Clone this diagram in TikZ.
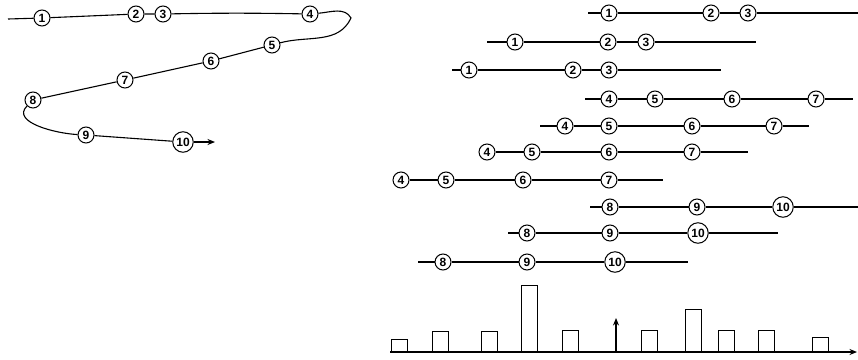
\documentclass[tikz,border=0pt]{standalone}
\usepackage{fontspec}
\setmainfont{Liberation Sans}
\usetikzlibrary{arrows.meta}
\begin{document}
\begin{tikzpicture}[x=1pt,y=1pt,line width=1.1pt,
  num/.style={circle,draw,fill=white,inner sep=0pt,minimum size=16pt,font=\fontsize{12}{12}\selectfont\bfseries,line width=1pt},
  numw/.style={num,minimum size=20.5pt},
  bar/.style={draw,fill=white,minimum width=16pt,inner sep=0pt,anchor=south,line width=1pt},
  tip/.style={-{Stealth[length=7.5pt,width=6pt]}}]
\useasboundingbox (0,0) rectangle (858,-359);
% ---------- left curve ----------
\coordinate (s) at (8,-19);
\coordinate (t) at (351,-18);
\coordinate (e) at (215,-142);
\node[num] (n1) at (42,-18) {1};
\node[num] (n2) at (136,-14) {2};
\node[num] (n3) at (163,-14) {3};
\node[num] (n4) at (310,-14) {4};
\node[num] (n5) at (272,-45) {5};
\node[num] (n6) at (211,-61) {6};
\node[num] (n7) at (125,-80) {7};
\node[num] (n8) at (33,-100) {8};
\node[num] (n9) at (86,-135) {9};
\node[numw] (n10) at (183,-142) {10};
\draw (s) -- (n1) -- (n2) -- (n3) to[out=1,in=179] (n4);
\draw (n4) to[out=5,in=120] (t) to[out=-115,in=15] (n5);
\draw (n5) -- (n6) -- (n7) -- (n8);
\draw (n8) to[out=225,in=177] (n9);
\draw (n9) -- (n10);
\draw[tip] (n10) -- (e);
% ---------- right rows ----------
% row 1
\coordinate (r1s) at (588,-13); \coordinate (r1e) at (858,-13);
\node[num] (r1a) at (609,-13) {1};
\node[num] (r1b) at (711,-13) {2};
\node[num] (r1c) at (748,-13) {3};
\draw (r1s) -- (r1a) -- (r1b) -- (r1c) -- (r1e);
% row 2
\coordinate (r2s) at (487,-42); \coordinate (r2e) at (756,-42);
\node[num] (r2a) at (515,-42) {1};
\node[num] (r2b) at (608,-42) {2};
\node[num] (r2c) at (646,-42) {3};
\draw (r2s) -- (r2a) -- (r2b) -- (r2c) -- (r2e);
% row 3
\coordinate (r3s) at (452,-70); \coordinate (r3e) at (721,-70);
\node[num] (r3a) at (469,-70) {1};
\node[num] (r3b) at (573,-70) {2};
\node[num] (r3c) at (609,-70) {3};
\draw (r3s) -- (r3a) -- (r3b) -- (r3c) -- (r3e);
% row 4
\coordinate (r4s) at (585,-99); \coordinate (r4e) at (853,-99);
\node[num] (r4a) at (609,-99) {4};
\node[num] (r4b) at (655,-99) {5};
\node[num] (r4c) at (732,-99) {6};
\node[num] (r4d) at (816,-99) {7};
\draw (r4s) -- (r4a) -- (r4b) -- (r4c) -- (r4d) -- (r4e);
% row 5
\coordinate (r5s) at (540,-126); \coordinate (r5e) at (809,-126);
\node[num] (r5a) at (565,-126) {4};
\node[num] (r5b) at (609,-126) {5};
\node[num] (r5c) at (692,-126) {6};
\node[num] (r5d) at (774,-126) {7};
\draw (r5s) -- (r5a) -- (r5b) -- (r5c) -- (r5d) -- (r5e);
% row 6
\coordinate (r6e) at (748,-152);
\node[num] (r6a) at (487,-152) {4};
\node[num] (r6b) at (532,-152) {5};
\node[num] (r6c) at (609,-152) {6};
\node[num] (r6d) at (692,-152) {7};
\draw (r6a) -- (r6b) -- (r6c) -- (r6d) -- (r6e);
% row 7
\coordinate (r7e) at (663,-180);
\node[num] (r7a) at (401,-180) {4};
\node[num] (r7b) at (446,-180) {5};
\node[num] (r7c) at (523,-180) {6};
\node[num] (r7d) at (609,-180) {7};
\draw (r7a) -- (r7b) -- (r7c) -- (r7d) -- (r7e);
% row 8
\coordinate (r8s) at (590,-207); \coordinate (r8e) at (858,-207);
\node[num] (r8a) at (610,-207) {8};
\node[num] (r8b) at (697,-207) {9};
\node[numw] (r8c) at (783,-207) {10};
\draw (r8s) -- (r8a) -- (r8b) -- (r8c) -- (r8e);
% row 9
\coordinate (r9s) at (508,-233); \coordinate (r9e) at (778,-233);
\node[num] (r9a) at (527,-233) {8};
\node[num] (r9b) at (610,-233) {9};
\node[numw] (r9c) at (698,-233) {10};
\draw (r9s) -- (r9a) -- (r9b) -- (r9c) -- (r9e);
% row 10
\coordinate (r10s) at (418,-262); \coordinate (r10e) at (688,-262);
\node[num] (r10a) at (443,-262) {8};
\node[num] (r10b) at (527,-262) {9};
\node[numw] (r10c) at (615,-262) {10};
\draw (r10s) -- (r10a) -- (r10b) -- (r10c) -- (r10e);
% ---------- bottom bars ----------
\node[bar,minimum height=12pt] (b1) at (399,-352) {};
\node[bar,minimum height=20pt] (b2) at (440,-352) {};
\node[bar,minimum height=20pt] (b3) at (489,-352) {};
\node[bar,minimum height=66pt] (b4) at (529,-352) {};
\node[bar,minimum height=21pt] (b5) at (570,-352) {};
\node[bar,minimum height=21pt] (b6) at (649,-352) {};
\node[bar,minimum height=42pt] (b7) at (693,-352) {};
\node[bar,minimum height=21pt] (b8) at (726,-352) {};
\node[bar,minimum height=21pt] (b9) at (766,-352) {};
\node[bar,minimum height=14pt] (b10) at (820,-352) {};
\coordinate (ax0) at (390,-352);
\coordinate (ax1) at (857,-352);
\draw[tip] (ax0) -- (ax1);
\coordinate (up0) at (616,-352);
\coordinate (up1) at (616,-318);
\draw[tip] (up0) -- (up1);
\end{tikzpicture}
\end{document}
